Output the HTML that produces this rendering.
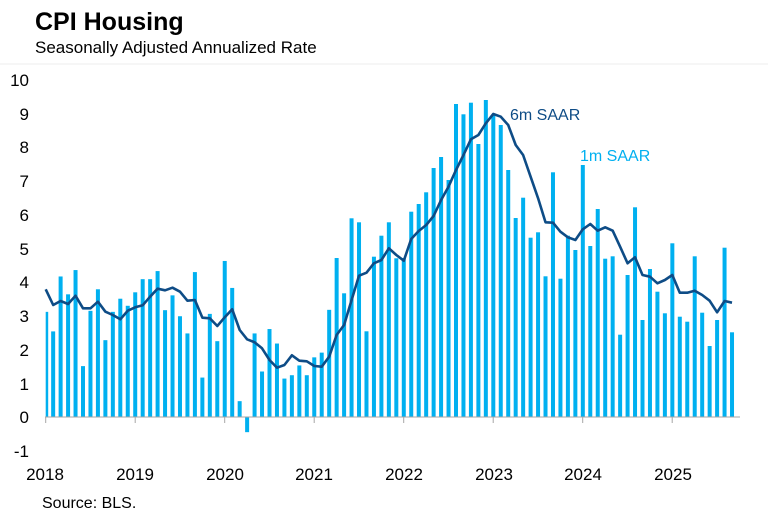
<!DOCTYPE html>
<html><head><meta charset="utf-8"><style>
body{margin:0;background:#fff;width:768px;height:519px;overflow:hidden;font-family:"Liberation Sans",Arial,sans-serif}
svg text{font-family:"Liberation Sans",Arial,sans-serif}
</style></head><body>
<svg id="c" width="768" height="519" viewBox="0 0 768 519" xmlns="http://www.w3.org/2000/svg">
<text x="35" y="30" font-size="25" font-weight="bold" fill="#000">CPI Housing</text>
<text x="35" y="53" font-size="17" fill="#000">Seasonally Adjusted Annualized Rate</text>
<line x1="0" y1="64" x2="768" y2="64" stroke="#eeeeee" stroke-width="1"/>
<g font-size="17" fill="#000" text-anchor="end">
<text x="29" y="86">10</text><text x="29" y="120">9</text><text x="29" y="153">8</text><text x="29" y="187">7</text>
<text x="29" y="221">6</text><text x="29" y="255">5</text><text x="29" y="288">4</text><text x="29" y="322">3</text>
<text x="29" y="356">2</text><text x="29" y="390">1</text><text x="29" y="423">0</text><text x="29" y="457">-1</text>
</g>
<g id="bars" fill="#00b0f0"></g>
<line x1="45" y1="417" x2="740" y2="417" stroke="#a6a6a6" stroke-width="1"/>
<g id="ticks" stroke="#a6a6a6" stroke-width="1"></g>
<g font-size="17" fill="#000" text-anchor="middle">
<text x="45" y="480">2018</text><text x="135" y="480">2019</text><text x="225" y="480">2020</text><text x="314" y="480">2021</text>
<text x="404" y="480">2022</text><text x="494" y="480">2023</text><text x="583" y="480">2024</text><text x="673" y="480">2025</text>
</g>
<polyline id="ln" fill="none" stroke="#0e4c86" stroke-width="2.6" stroke-linejoin="round"/>
<text x="510" y="120" font-size="16" fill="#0e4c86">6m SAAR</text>
<text x="580" y="161" font-size="16" fill="#00b0f0">1m SAAR</text>
<text x="42" y="508" font-size="16" fill="#000">Source: BLS.</text>
</svg>
<script>
var bv=[3.12,2.54,4.17,3.64,4.36,1.51,3.15,3.79,2.28,3.12,3.51,3.3,3.70,4.09,4.09,4.33,3.17,3.61,2.99,2.48,4.30,1.17,3.06,2.25,4.63,3.83,0.47,-0.45,2.48,1.35,2.61,2.18,1.14,1.24,1.53,1.24,1.77,1.91,3.18];
var by=[258,293.3,218.3,222.3,331.3,256.7,235.7,222.3,258.3,258,211.7,204,192.3,168,157,180,104,114.3,102.7,144,100,115,125,170,218,197.7,237.7,232.3,276.3,172.3,278.7,235.7,250,165,246,209,258.7,256.3,334.7,275,207.3,320,269,291.7,313.3,243.3,316.7,321.7,256.3,312.7,346,320,247.7,332.3];
for(var k=0;k<by.length;k++)bv.push((417-by[k])/33.7);
var ly=[289.3,305,301,304,295.7,308.3,308.3,301.7,311.7,315,319.3,310.7,307.3,305.3,296.7,288.7,290.3,287.7,291.7,300.7,300,317.7,318.3,326,317.3,309.3,330,339.3,342.3,348.3,360,367.7,365,355.3,360.7,361.3,366,366.7,
356.7,335,325,300,275.7,272.7,263.3,260,248.3,255,260.7,239,231,225,216,200,186.7,170,155,139.3,135,123.3,114,116.7,125,145,155,176.7,198.3,222.3,222.7,
231.7,237.3,240,229.3,224,230.7,227.3,230.7,246.7,263.3,257.3,275,276.7,283.3,280,275,292.7,292.7,290.7,295,300.7,312.3,301,302.7];
var ns="http://www.w3.org/2000/svg",g=document.getElementById("bars");
function X(i){return 45.7+i*7.46;}
for(var i=0;i<bv.length;i++){var r=document.createElementNS(ns,"rect");var v=bv[i];var y=417-v*33.7;
var x=X(i)-2,w=4;if(i==0){x=45.7;w=2.5;}
r.setAttribute("x",x);r.setAttribute("width",w);r.setAttribute("y",Math.min(y,417));r.setAttribute("height",Math.abs(v*33.7));g.appendChild(r);}
var p=[];for(var i=0;i<ly.length;i++)p.push(X(i).toFixed(1)+","+ly[i]);
document.getElementById("ln").setAttribute("points",p.join(" "));
var t=document.getElementById("ticks");
[45.7,135.2,224.7,314.2,403.7,493.2,582.7,672.2].forEach(function(x){var l=document.createElementNS(ns,"line");l.setAttribute("x1",x);l.setAttribute("x2",x);l.setAttribute("y1",417);l.setAttribute("y2",423);t.appendChild(l);});
</script>
</body></html>
